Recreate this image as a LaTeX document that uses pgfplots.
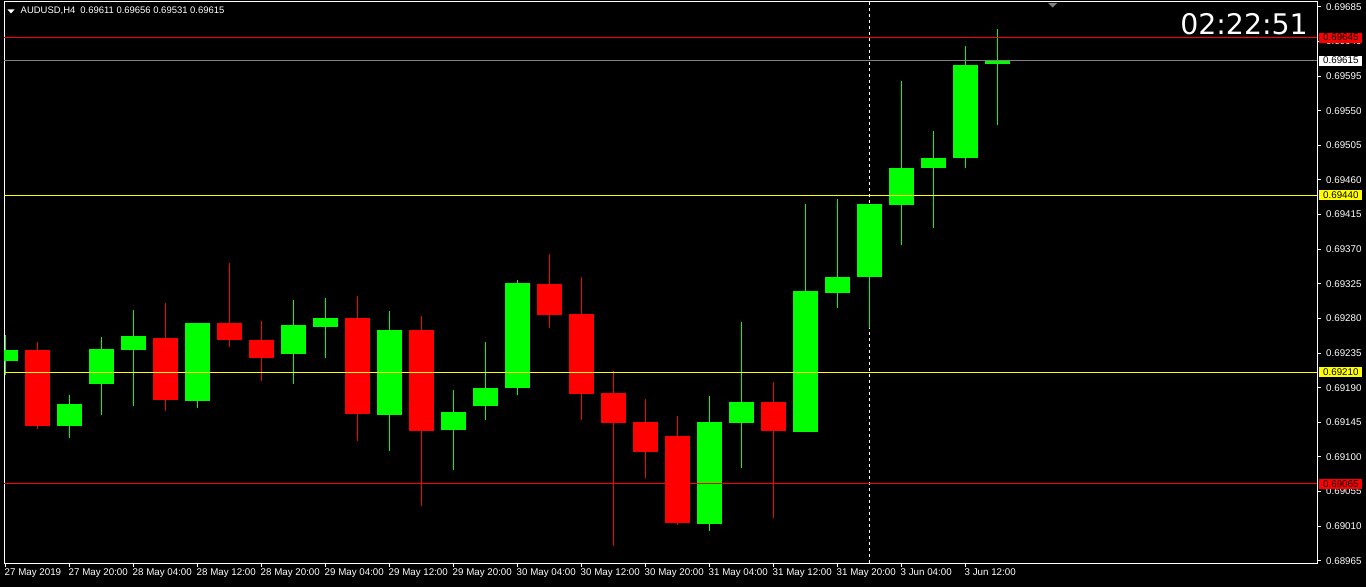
\documentclass[border=0pt]{standalone}
\usepackage{fontspec}
\setmainfont{Liberation Sans}
\newfontfamily\clockfont{DejaVu Sans}
\usepackage{pgfplots}
\usepackage{pgfplotstable}
\pgfplotsset{compat=1.18}
\definecolor{mtgreen}{RGB}{0,255,0}
\definecolor{mtred}{RGB}{255,0,0}
\definecolor{mtyellow}{RGB}{255,255,0}
\definecolor{mtgray}{RGB}{128,128,128}

\pgfplotstableread{
i O H L C
0 0.69225 0.69258 0.69207 0.69239
2 0.69140 0.69180 0.69125 0.69169
3 0.69195 0.69256 0.69155 0.69240
4 0.69239 0.69291 0.69166 0.69257
6 0.69173 0.69274 0.69164 0.69274
9 0.69234 0.69304 0.69195 0.69271
10 0.69269 0.69307 0.69229 0.69280
12 0.69155 0.69290 0.69108 0.69265
14 0.69135 0.69187 0.69083 0.69158
15 0.69166 0.69249 0.69148 0.69190
16 0.69189 0.69330 0.69180 0.69326
22 0.69013 0.69179 0.69004 0.69145
23 0.69144 0.69275 0.69086 0.69171
25 0.69133 0.69429 0.69133 0.69316
26 0.69313 0.69435 0.69293 0.69334
27 0.69334 0.69429 0.69267 0.69429
28 0.69428 0.69589 0.69376 0.69475
29 0.69475 0.69524 0.69397 0.69488
30 0.69488 0.69634 0.69475 0.69609
31 0.69611 0.69656 0.69531 0.69615
}\upcandles

\pgfplotstableread{
i O H L C
1 0.69239 0.69249 0.69136 0.69140
5 0.69254 0.69300 0.69159 0.69174
7 0.69274 0.69352 0.69243 0.69252
8 0.69252 0.69277 0.69198 0.69229
11 0.69280 0.69309 0.69121 0.69156
13 0.69265 0.69283 0.69036 0.69134
17 0.69325 0.69364 0.69268 0.69285
18 0.69286 0.69334 0.69148 0.69182
19 0.69183 0.69211 0.68984 0.69144
20 0.69145 0.69175 0.69072 0.69107
21 0.69127 0.69153 0.69012 0.69014
24 0.69171 0.69197 0.69021 0.69134
}\downcandles

\begin{document}
\begin{tikzpicture}
\fill[black] (0bp,0bp) rectangle (1366bp,587bp);
\begin{axis}[
  at={(4bp,24bp)}, anchor=south west, scale only axis,
  width=1313bp, height=561bp,
  xmin=-0.046875, xmax=40.984375,
  ymin=0.689621, ymax=0.696912,
  axis line style={white, line width=1bp},
  tick style={white, line width=1bp},
  tick align=outside, major tick length=4bp,
  xtick pos=left, ytick pos=right, yticklabel pos=right,
  scaled y ticks=false,
  xtick={0,2,...,30},
  xticklabels={27 May 2019,27 May 20:00,28 May 04:00,28 May 12:00,28 May 20:00,29 May 04:00,29 May 12:00,29 May 20:00,30 May 04:00,30 May 12:00,30 May 20:00,31 May 04:00,31 May 12:00,31 May 20:00,3 Jun 04:00,3 Jun 12:00},
  ytick={0.68965,0.69010,0.69055,0.69100,0.69145,0.69190,0.69235,0.69280,0.69325,0.69370,0.69415,0.69460,0.69505,0.69550,0.69595,0.69640,0.69685},
  yticklabels={0.68965,0.69010,0.69055,0.69100,0.69145,0.69190,0.69235,0.69280,0.69325,0.69370,0.69415,0.69460,0.69505,0.69550,0.69595,0.69640,0.69685},
  ticklabel style={font=\fontsize{9.8}{11}\selectfont, text=white, inner sep=0pt},
  xticklabel style={anchor=north west, xshift=-1bp, yshift=-1bp},
  yticklabel style={anchor=west, xshift=5bp},
  clip mode=individual,
]
% period separator
\addplot[white, line width=1bp, dash pattern=on 3bp off 3bp] coordinates {(27,0.689621) (27,0.696912)};
% wicks
\addplot[draw=none, mark=none, forget plot, error bars/.cd, y dir=plus, y explicit, error mark=none,
  error bar style={draw=mtgreen, line width=1bp}]
  table[x=i, y=L, y error expr=\thisrow{H}-\thisrow{L}] {\upcandles};
\addplot[draw=none, mark=none, forget plot, error bars/.cd, y dir=plus, y explicit, error mark=none,
  error bar style={draw=mtred, line width=1bp}]
  table[x=i, y=L, y error expr=\thisrow{H}-\thisrow{L}] {\downcandles};
% bodies
\addplot[draw=none, mark=none, forget plot, error bars/.cd, y dir=plus, y explicit, error mark=none,
  error bar style={draw=mtgreen, line width=25bp}]
  table[x=i, y=O, y error expr=\thisrow{C}-\thisrow{O}] {\upcandles};
\addplot[draw=none, mark=none, forget plot, error bars/.cd, y dir=plus, y explicit, error mark=none,
  error bar style={draw=mtred, line width=25bp}]
  table[x=i, y=C, y error expr=\thisrow{O}-\thisrow{C}] {\downcandles};
% horizontal lines
\addplot[mtred, line width=1bp] coordinates {(-0.046875,0.69645) (40.984375,0.69645)};
\addplot[mtgray, line width=1bp] coordinates {(-0.046875,0.69615) (40.984375,0.69615)};
\addplot[mtyellow, line width=1bp] coordinates {(-0.046875,0.69440) (40.984375,0.69440)};
\addplot[mtyellow, line width=1bp] coordinates {(-0.046875,0.69210) (40.984375,0.69210)};
\addplot[mtred, line width=1bp] coordinates {(-0.046875,0.69065) (40.984375,0.69065)};
% price labels
\tikzset{pricebox/.style={anchor=west, text=black, inner xsep=4bp, inner ysep=0pt, minimum height=10bp, xshift=2bp, font=\fontsize{9.8}{11}\selectfont}}
\node[pricebox, fill=mtred] at ({rel axis cs:1,0}|-{axis cs:0,0.69645}) {0.69645};
\node[pricebox, fill=white] at ({rel axis cs:1,0}|-{axis cs:0,0.69615}) {0.69615};
\node[pricebox, fill=mtyellow] at ({rel axis cs:1,0}|-{axis cs:0,0.69440}) {0.69440};
\node[pricebox, fill=mtyellow] at ({rel axis cs:1,0}|-{axis cs:0,0.69210}) {0.69210};
\node[pricebox, fill=mtred] at ({rel axis cs:1,0}|-{axis cs:0,0.69065}) {0.69065};
\end{axis}
% title
\fill[white] (7.5bp,577.5bp) -- (14.5bp,577.5bp) -- (11bp,573.5bp) -- cycle;
\node[anchor=base west, inner sep=0pt, text=white, font=\fontsize{9.5}{11}\selectfont] at (20.5bp,573bp) {AUDUSD,H4\hspace{5bp}0.69611 0.69656 0.69531 0.69615};
% clock
\node[anchor=base east, inner sep=0pt, text=white, font=\clockfont\fontsize{28.5}{30}\selectfont] at (1308bp,552.7bp) {02:22:51};
% shift marker
\fill[mtgray] (1048bp,584bp) -- (1057bp,584bp) -- (1052.5bp,579.5bp) -- cycle;
\pgfresetboundingbox
\useasboundingbox (0bp,0bp) rectangle (1366bp,587bp);
\end{tikzpicture}
\end{document}
